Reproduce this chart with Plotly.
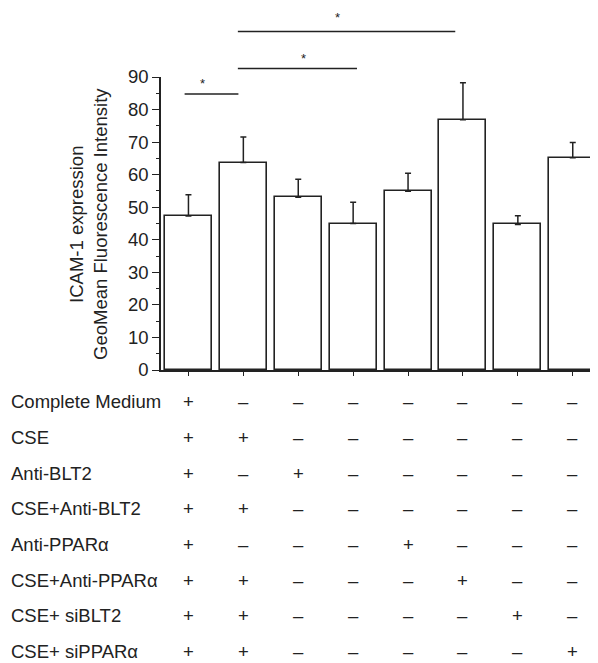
import plotly.graph_objects as go

# ---- data ----
groups = list(range(8))
means = [47.3, 63.7, 53.1, 45.0, 54.9, 76.9, 44.7, 65.2]
err_upper = [6.5, 7.9, 5.5, 6.5, 5.5, 11.3, 2.7, 4.7]

row_labels = ["Complete Medium", "CSE", "Anti-BLT2", "CSE+Anti-BLT2",
              "Anti-PPARα", "CSE+Anti-PPARα", "CSE+ siBLT2", "CSE+ siPPARα"]
row_signs = [
    ["+", "–", "–", "–", "–", "–", "–", "–"],
    ["+", "+", "–", "–", "–", "–", "–", "–"],
    ["+", "–", "+", "–", "–", "–", "–", "–"],
    ["+", "+", "–", "–", "–", "–", "–", "–"],
    ["+", "–", "–", "–", "+", "–", "–", "–"],
    ["+", "+", "–", "–", "–", "+", "–", "–"],
    ["+", "+", "–", "–", "–", "–", "+", "–"],
    ["+", "+", "–", "–", "–", "–", "–", "+"],
]

# significance brackets: (x start, x end, height in data units, star x, star height)
sig_x0 = [-0.07, 0.90, 0.90]
sig_x1 = [0.91, 3.07, 4.86]
sig_h = [84.8, 92.6, 104.0]
star_x = [0.25, 2.09, 2.71]
star_h = [88.0, 95.7, 108.4]

y_title = "ICAM-1 expression<br>GeoMean Fluorescence Intensity"
y_ticks = list(range(0, 91, 10))

FONT = "Liberation Sans, Arial, Helvetica, sans-serif"
YMAX = 90.0

fig = go.Figure()
fig.add_trace(go.Bar(
    x=groups, y=means, width=0.856,
    marker=dict(color="white", line=dict(color="#222222", width=1.6)),
    error_y=dict(type="data", array=err_upper, arrayminus=[0] * len(means),
                 symmetric=False, color="#222222", thickness=1.5, width=3),
    showlegend=False, hoverinfo="skip",
))

shapes = []
annotations = []
for x0, x1, h in zip(sig_x0, sig_x1, sig_h):
    shapes.append(dict(type="line", xref="x", yref="paper", x0=x0, x1=x1,
                       y0=h / YMAX, y1=h / YMAX,
                       line=dict(color="#222222", width=1.5)))
for sx, sh in zip(star_x, star_h):
    annotations.append(dict(xref="x", yref="paper", x=sx, y=sh / YMAX,
                            text="*", showarrow=False,
                            font=dict(family=FONT, size=13, color="#222222"),
                            xanchor="center", yanchor="middle"))

# table below plot
row_y0 = -0.108
row_step = 0.1218
for r, (lab, signs) in enumerate(zip(row_labels, row_signs)):
    yy = row_y0 - r * row_step
    annotations.append(dict(xref="paper", yref="paper", x=-0.347, y=yy,
                            text=lab, showarrow=False, xanchor="left",
                            yanchor="middle",
                            font=dict(family=FONT, size=18.5, color="#222222")))
    for c, s in enumerate(signs):
        annotations.append(dict(xref="x", yref="paper", x=groups[c], y=yy,
                                text=s, showarrow=False, xanchor="center",
                                yanchor="middle",
                                font=dict(family=FONT, size=18.5, color="#222222")))

annotations.append(dict(xref="paper", yref="paper", x=-0.166, y=0.5,
                        text=y_title, textangle=-90, showarrow=False,
                        xanchor="center", yanchor="middle",
                        font=dict(family=FONT, size=18.5, color="#222222")))

fig.update_layout(
    width=590, height=655,
    margin=dict(l=153, r=0, t=69, b=293, pad=0),
    paper_bgcolor="white", plot_bgcolor="white",
    font=dict(family=FONT, size=18.5, color="#222222"),
    shapes=shapes, annotations=annotations,
    bargap=0,
)
fig.update_xaxes(range=[-0.5, 7.46], showline=True, linecolor="#222222",
                 linewidth=1.5, ticks="outside", ticklen=4, tickwidth=1.2,
                 tickcolor="#222222", tickvals=groups, showticklabels=False,
                 showgrid=False, zeroline=False)
fig.update_yaxes(range=[0, YMAX], showline=True, linecolor="#222222",
                 linewidth=1.5, ticks="outside", ticklen=7, tickwidth=1.2,
                 tickcolor="#222222", tickvals=y_ticks,
                 tickfont=dict(family=FONT, size=18.5, color="#222222"),
                 minor=dict(ticks="outside", ticklen=3, tickwidth=1,
                            tickcolor="#222222", dtick=5, showgrid=False),
                 showgrid=False, zeroline=False)

fig.write_html("out.html")
